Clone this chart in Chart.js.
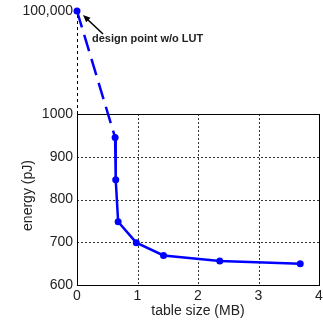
<!DOCTYPE html>
<html>
<head>
<meta charset="utf-8">
<script src="https://cdn.jsdelivr.net/npm/chart.js@4"></script>
<style>
	html, body { margin: 0; padding: 0; background: #fff; }
	canvas { display: block; }
</style>
</head>
<body>
<canvas id="chart" width="323" height="324"></canvas>
<script>
// table size in MB vs energy in pJ
const tableSizeMB = [0, 0.63, 0.64, 0.68, 0.98, 1.43, 2.36, 3.69];
const energyPJ = [100000, 945, 846, 748, 699, 669, 656, 650];

const yTicks = [600, 700, 800, 900, 1000];
const xTicks = [0, 1, 2, 3, 4];
const breakValue = 100000;   // shown above the axis break
const breakSlot = 1241;      // where the break value sits on the linear scale

const annotation = "design point w/o LUT";

Chart.defaults.font.family = "Arial, 'Liberation Sans', sans-serif";
Chart.defaults.color = "#222";

const toSlot = v => v > 1000 ? breakSlot : v;

const frame = {
	id: "frame",
	beforeDatasetsDraw(chart) {
		const c = chart.ctx, x = chart.scales.x, y = chart.scales.y;
		const x0 = x.getPixelForValue(0), x4 = x.getPixelForValue(4);
		const yTop = y.getPixelForValue(1000), yBot = y.getPixelForValue(600);
		c.save();
		c.lineWidth = 1;
		// dashed grid inside the box
		c.setLineDash([2, 2]);
		c.strokeStyle = "#333";
		for (const v of [1, 2, 3]) {
			const px = Math.round(x.getPixelForValue(v)) + 0.5;
			c.beginPath(); c.moveTo(px, yTop); c.lineTo(px, yBot); c.stroke();
		}
		for (const v of [700, 800, 900]) {
			const py = Math.round(y.getPixelForValue(v)) + 0.5;
			c.beginPath(); c.moveTo(x0, py); c.lineTo(x4, py); c.stroke();
		}
		// dashed axis above the break
		c.setLineDash([3, 3]);
		c.strokeStyle = "#000";
		const ax = Math.round(x0) + 0.5;
		c.beginPath(); c.moveTo(ax, yTop); c.lineTo(ax, y.getPixelForValue(breakSlot)); c.stroke();
		// solid box
		c.setLineDash([]);
		c.strokeRect(Math.round(x0) + 0.5, Math.round(yTop) + 0.5, Math.round(x4 - x0), Math.round(yBot - yTop));
		c.restore();
	},
	afterDatasetsDraw(chart) {
		const c = chart.ctx, x = chart.scales.x, y = chart.scales.y;
		const px = x.getPixelForValue(tableSizeMB[0]);
		const py = y.getPixelForValue(toSlot(energyPJ[0]));
		c.save();
		// arrow
		const tx = px + 6, ty = py + 4, sx = px + 26, sy = py + 23;
		c.strokeStyle = "#000";
		c.fillStyle = "#000";
		c.lineWidth = 1.5;
		c.beginPath(); c.moveTo(sx, sy); c.lineTo(tx + 3, ty + 3); c.stroke();
		const ang = Math.atan2(ty - sy, tx - sx);
		c.beginPath();
		c.moveTo(tx, ty);
		c.lineTo(tx - 8 * Math.cos(ang - 0.4), ty - 8 * Math.sin(ang - 0.4));
		c.lineTo(tx - 8 * Math.cos(ang + 0.4), ty - 8 * Math.sin(ang + 0.4));
		c.closePath(); c.fill();
		// label
		c.font = "bold 11px Arial, 'Liberation Sans', sans-serif";
		c.fillStyle = "#222";
		c.textBaseline = "middle";
		c.textAlign = "left";
		c.fillText(annotation, px + 15, py + 28);
		// y title centred on the lower box
		const yc = (y.getPixelForValue(1000) + y.getPixelForValue(600)) / 2;
		c.translate(28, yc - 4);
		c.rotate(-Math.PI / 2);
		c.textAlign = "center";
		c.font = "14px Arial, 'Liberation Sans', sans-serif";
		c.fillText("energy (pJ)", 0, 0);
		c.restore();
	}
};

new Chart(document.getElementById("chart"), {
	type: "line",
	data: {
		datasets: [{
			data: tableSizeMB.map((t, i) => ({ x: t, y: toSlot(energyPJ[i]) })),
			borderColor: "#0000ff",
			backgroundColor: "#0000ff",
			borderWidth: 2.5,
			pointRadius: 3.5,
			pointBorderWidth: 0,
			tension: 0,
			clip: false,
			segment: {
				borderDash: ctx => ctx.p0DataIndex === 0 ? [17, 8] : undefined
			}
		}]
	},
	options: {
		responsive: false,
		animation: false,
		layout: { padding: { top: 11, right: 0, left: 0, bottom: 0 } },
		plugins: { legend: { display: false }, tooltip: { enabled: false } },
		scales: {
			x: {
				type: "linear",
				min: 0,
				max: 4,
				grid: { display: false, drawTicks: false },
				border: { display: false },
				afterBuildTicks: s => { s.ticks = xTicks.map(v => ({ value: v })); },
				ticks: { font: { size: 14 }, padding: 3, maxRotation: 0 },
				title: { display: true, text: "table size (MB)", font: { size: 14 }, padding: { top: 0 } },
				afterFit: s => { s.height = 39; s.paddingLeft = 0; s.paddingRight = 0; }
			},
			y: {
				type: "linear",
				min: 600,
				max: breakSlot,
				grid: { display: false, drawTicks: false },
				border: { display: false },
				afterBuildTicks: s => { s.ticks = yTicks.concat([breakSlot]).map(v => ({ value: v })); },
				ticks: {
					font: { size: 14 },
					padding: 4,
					callback: v => v === breakSlot ? breakValue.toLocaleString("en-US") : v
				},
				afterFit: s => { s.width = 77; s.paddingTop = 0; s.paddingBottom = 0; }
			}
		}
	},
	plugins: [frame]
});
</script>
</body>
</html>
